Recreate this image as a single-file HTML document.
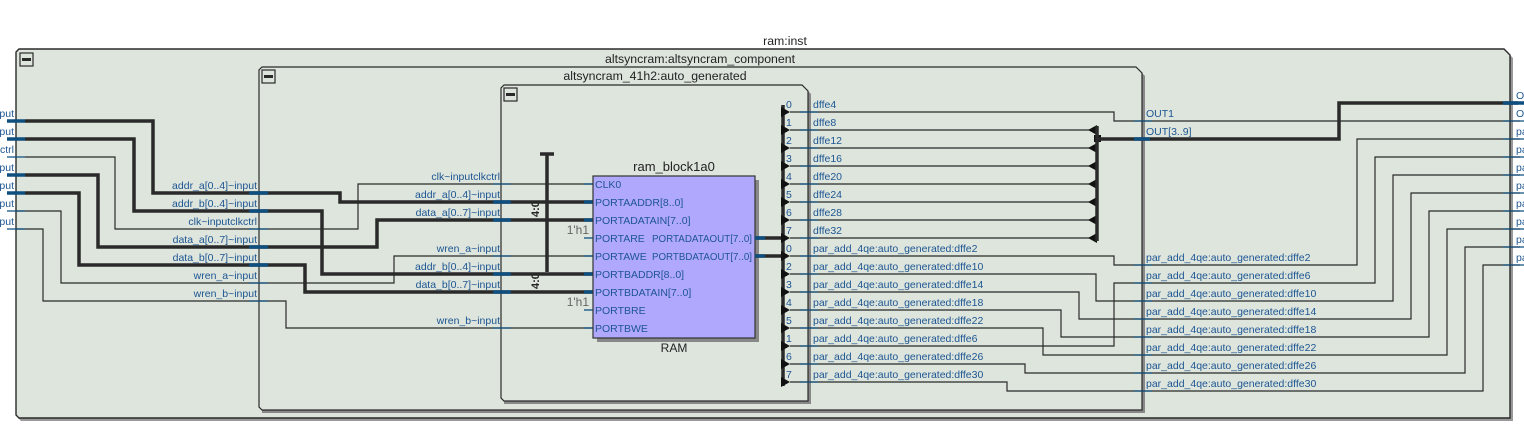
<!DOCTYPE html>
<html><head><meta charset="utf-8"><style>
html,body{margin:0;padding:0;background:#fff;}
svg{display:block;}
text{font-family:"Liberation Sans","DejaVu Sans",sans-serif;font-size:10.5px;fill:#1d5592;}
.k{fill:#222;}
.h{fill:#222;font-size:12.3px;}
.g{fill:#666;font-size:12px;}
.t{stroke:#2a2a2a;stroke-width:3.5;fill:none;}
.n{stroke:#2a2a2a;stroke-width:1.2;fill:none;}
.b{stroke:#0e4f7f;stroke-width:3.5;}
.bn{stroke:#0e4f7f;stroke-width:1.3;}
</style></head><body>
<svg width="1524" height="447" viewBox="0 0 1524 447" xmlns="http://www.w3.org/2000/svg">
<path d="M19,51 L1506,51 L1513,58 L1513,421 L21,421 L19,419 Z" fill="#999"/>
<path d="M19,49 L1504,49 L1510,55 L1510,418 L19,418 L16,415 L16,52 Z" fill="#dde5dd" stroke="#2a2a2a" stroke-width="1.4"/>
<text x="785" y="45" text-anchor="middle" class="h">ram:inst</text>
<text x="700" y="63" text-anchor="middle" class="h">altsyncram:altsyncram_component</text>
<rect x="20" y="53" width="13" height="13" fill="none" stroke="#2a2a2a" stroke-width="1.2"/><rect x="22" y="58" width="9" height="3" fill="#2a2a2a"/>
<path d="M262,70 L1139,70 L1145,76 L1145,413 L262,413 Z" fill="#888"/>
<path d="M262,67 L1136,67 L1142,73 L1142,410 L262,410 L259,407 L259,70 Z" fill="#dde5dd" stroke="#2a2a2a" stroke-width="1.2"/>
<text x="655" y="80" text-anchor="middle" class="h">altsyncram_41h2:auto_generated</text>
<rect x="262" y="70" width="13" height="13" fill="none" stroke="#2a2a2a" stroke-width="1.2"/><rect x="264" y="75" width="9" height="3" fill="#2a2a2a"/>
<path d="M504,88 L805,88 L811,94 L811,404 L504,404 Z" fill="#888"/>
<path d="M504,85 L802,85 L808,91 L808,401 L504,401 L501,398 L501,88 Z" fill="#dde5dd" stroke="#2a2a2a" stroke-width="1.2"/>
<rect x="504" y="88" width="13" height="13" fill="none" stroke="#2a2a2a" stroke-width="1.2"/><rect x="506" y="93" width="9" height="3" fill="#2a2a2a"/>

<g>
<text x="14" y="117" text-anchor="end">put</text>
<text x="14" y="135" text-anchor="end">put</text>
<text x="14" y="153" text-anchor="end">ctrl</text>
<text x="14" y="171" text-anchor="end">put</text>
<text x="14" y="189" text-anchor="end">put</text>
<text x="14" y="207" text-anchor="end">put</text>
<text x="14" y="225" text-anchor="end">put</text>
</g>
<polyline class="t" points="25,121 153,121 153,193 340,193 340,202 593,202"/>
<polyline class="t" points="25,139 134,139 134,211 322,211 322,274 593,274"/>
<polyline class="n" points="25,157 115,157 115,229 358,229 358,184 593,184"/>
<polyline class="t" points="25,175 98,175 98,247 377,247 377,220 593,220"/>
<polyline class="t" points="25,193 79,193 79,265 305,265 305,292 593,292"/>
<polyline class="n" points="16,211 61,211 61,283 394,283 394,256 593,256"/>
<polyline class="n" points="16,229 43,229 43,301 286,301 286,328 593,328"/>
<g class="b"><line x1="7" y1="121" x2="25" y2="121"/><line x1="7" y1="139" x2="25" y2="139"/><line x1="7" y1="175" x2="25" y2="175"/><line x1="7" y1="193" x2="25" y2="193"/></g>
<g class="bn"><line x1="7" y1="157" x2="25" y2="157"/><line x1="7" y1="211" x2="25" y2="211"/><line x1="7" y1="229" x2="25" y2="229"/></g>
<g text-anchor="end">
<text x="257" y="189">addr_a[0..4]~input</text>
<text x="257" y="207">addr_b[0..4]~input</text>
<text x="257" y="225">clk~inputclkctrl</text>
<text x="257" y="243">data_a[0..7]~input</text>
<text x="257" y="261">data_b[0..7]~input</text>
<text x="257" y="279">wren_a~input</text>
<text x="257" y="297">wren_b~input</text>
<text x="500" y="180">clk~inputclkctrl</text>
<text x="500" y="198">addr_a[0..4]~input</text>
<text x="500" y="216">data_a[0..7]~input</text>
<text x="500" y="252">wren_a~input</text>
<text x="500" y="270">addr_b[0..4]~input</text>
<text x="500" y="288">data_b[0..7]~input</text>
<text x="500" y="324">wren_b~input</text>
</g>
<g class="b"><line x1="249" y1="193" x2="268" y2="193"/><line x1="249" y1="211" x2="268" y2="211"/><line x1="249" y1="247" x2="268" y2="247"/><line x1="249" y1="265" x2="268" y2="265"/>
<line x1="493" y1="202" x2="511" y2="202"/><line x1="493" y1="220" x2="511" y2="220"/><line x1="493" y1="274" x2="511" y2="274"/><line x1="493" y1="292" x2="511" y2="292"/>
<line x1="584" y1="202" x2="593" y2="202"/><line x1="584" y1="220" x2="593" y2="220"/><line x1="584" y1="274" x2="593" y2="274"/><line x1="584" y1="292" x2="593" y2="292"/></g>
<g class="bn"><line x1="249" y1="229" x2="268" y2="229"/><line x1="249" y1="283" x2="268" y2="283"/><line x1="249" y1="301" x2="268" y2="301"/>
<line x1="493" y1="184" x2="511" y2="184"/><line x1="493" y1="256" x2="511" y2="256"/><line x1="493" y1="328" x2="511" y2="328"/>
<line x1="584" y1="184" x2="593" y2="184"/><line x1="584" y1="256" x2="593" y2="256"/><line x1="584" y1="328" x2="593" y2="328"/>
<line x1="584" y1="238" x2="593" y2="238"/><line x1="584" y1="310" x2="593" y2="310"/></g>
<line x1="547" y1="153" x2="547" y2="272" class="t"/>
<line x1="540" y1="154" x2="554" y2="154" class="t"/>
<text x="0" y="0" class="k" style="font-size:11px;font-weight:bold" transform="translate(539,217) rotate(-90)">4:0</text>
<text x="0" y="0" class="k" style="font-size:11px;font-weight:bold" transform="translate(539,289) rotate(-90)">4:0</text>
<text x="589" y="234" text-anchor="end" class="g">1'h1</text>
<text x="589" y="306" text-anchor="end" class="g">1'h1</text>

<rect x="597" y="180" width="162" height="162" fill="#888"/>
<rect x="593" y="176" width="162" height="162" fill="#b0a8fc" stroke="#333" stroke-width="1.2"/>
<text x="674" y="171" text-anchor="middle" class="k" style="font-size:13px">ram_block1a0</text>
<text x="674" y="352" text-anchor="middle" class="k" style="font-size:12px">RAM</text>
<g>
<text x="595" y="188">CLK0</text>
<text x="595" y="206">PORTAADDR[8..0]</text>
<text x="595" y="224">PORTADATAIN[7..0]</text>
<text x="595" y="242">PORTARE</text>
<text x="595" y="260">PORTAWE</text>
<text x="595" y="278">PORTBADDR[8..0]</text>
<text x="595" y="296">PORTBDATAIN[7..0]</text>
<text x="595" y="314">PORTBRE</text>
<text x="595" y="332">PORTBWE</text>
<text x="652" y="242" textLength="100" lengthAdjust="spacingAndGlyphs">PORTADATAOUT[7..0]</text>
<text x="652" y="260" textLength="100" lengthAdjust="spacingAndGlyphs">PORTBDATAOUT[7..0]</text>
</g>
<line x1="755" y1="238" x2="783" y2="238" class="t"/>
<line x1="755" y1="256" x2="783" y2="256" class="t"/>
<g class="b"><line x1="755" y1="238" x2="765" y2="238"/><line x1="755" y1="256" x2="765" y2="256"/></g>

<line x1="783" y1="105" x2="783" y2="386" class="t"/>
<g fill="#111">
<path d="M781,107 l9,5 l-9,5Z"/><path d="M781,125 l9,5 l-9,5Z"/><path d="M781,143 l9,5 l-9,5Z"/><path d="M781,161 l9,5 l-9,5Z"/>
<path d="M781,179 l9,5 l-9,5Z"/><path d="M781,197 l9,5 l-9,5Z"/><path d="M781,215 l9,5 l-9,5Z"/><path d="M781,233 l9,5 l-9,5Z"/>
<path d="M781,251 l9,5 l-9,5Z"/><path d="M781,269 l9,5 l-9,5Z"/><path d="M781,287 l9,5 l-9,5Z"/><path d="M781,305 l9,5 l-9,5Z"/>
<path d="M781,323 l9,5 l-9,5Z"/><path d="M781,341 l9,5 l-9,5Z"/><path d="M781,359 l9,5 l-9,5Z"/><path d="M781,377 l9,5 l-9,5Z"/>
</g>
<g class="k" style="font-size:11px">
<text x="786" y="108">0</text><text x="786" y="126">1</text><text x="786" y="144">2</text><text x="786" y="162">3</text>
<text x="786" y="180">4</text><text x="786" y="198">5</text><text x="786" y="216">6</text><text x="786" y="234">7</text>
<text x="786" y="252">0</text><text x="786" y="270">2</text><text x="786" y="288">3</text><text x="786" y="306">4</text>
<text x="786" y="324">5</text><text x="786" y="342">1</text><text x="786" y="360">6</text><text x="786" y="378">7</text>
</g>
<g>
<text x="813" y="108">dffe4</text><text x="813" y="126">dffe8</text><text x="813" y="144">dffe12</text><text x="813" y="162">dffe16</text>
<text x="813" y="180">dffe20</text><text x="813" y="198">dffe24</text><text x="813" y="216">dffe28</text><text x="813" y="234">dffe32</text>
<text x="813" y="252">par_add_4qe:auto_generated:dffe2</text>
<text x="813" y="270">par_add_4qe:auto_generated:dffe10</text>
<text x="813" y="288">par_add_4qe:auto_generated:dffe14</text>
<text x="813" y="306">par_add_4qe:auto_generated:dffe18</text>
<text x="813" y="324">par_add_4qe:auto_generated:dffe22</text>
<text x="813" y="342">par_add_4qe:auto_generated:dffe6</text>
<text x="813" y="360">par_add_4qe:auto_generated:dffe26</text>
<text x="813" y="378">par_add_4qe:auto_generated:dffe30</text>
</g>
<polyline class="n" points="790,112 1114,112 1114,121 1520,121"/>
<g class="n"><line x1="790" y1="130" x2="1093" y2="130"/><line x1="790" y1="148" x2="1093" y2="148"/><line x1="790" y1="166" x2="1093" y2="166"/>
<line x1="790" y1="184" x2="1093" y2="184"/><line x1="790" y1="202" x2="1093" y2="202"/><line x1="790" y1="220" x2="1093" y2="220"/><line x1="790" y1="238" x2="1093" y2="238"/></g>
<g fill="#111">
<path d="M1097,125 l-9,5 l9,5Z"/><path d="M1097,143 l-9,5 l9,5Z"/><path d="M1097,161 l-9,5 l9,5Z"/><path d="M1097,179 l-9,5 l9,5Z"/>
<path d="M1097,197 l-9,5 l9,5Z"/><path d="M1097,215 l-9,5 l9,5Z"/><path d="M1097,233 l-9,5 l9,5Z"/>
<rect x="1094" y="135" width="7" height="7"/>
</g>
<line x1="1097" y1="126" x2="1097" y2="241" class="t"/>
<polyline class="t" points="1097,139 1339,139 1339,103 1518,103"/>
<text x="1146" y="117">OUT1</text>
<text x="1146" y="135">OUT[3..9]</text>
<polyline class="n" points="790,256 1114,256 1114,265 1357,265 1357,139 1520,139"/>
<polyline class="n" points="790,346 1114,346 1114,283 1375,283 1375,157 1520,157"/>
<polyline class="n" points="790,274 1096,274 1096,301 1393,301 1393,175 1520,175"/>
<polyline class="n" points="790,292 1079,292 1079,319 1411,319 1411,193 1520,193"/>
<polyline class="n" points="790,310 1061,310 1061,337 1429,337 1429,211 1520,211"/>
<polyline class="n" points="790,328 1043,328 1043,355 1447,355 1447,229 1520,229"/>
<polyline class="n" points="790,364 1025,364 1025,373 1465,373 1465,247 1520,247"/>
<polyline class="n" points="790,382 1007,382 1007,391 1483,391 1483,265 1520,265"/>
<g>
<text x="1146" y="261">par_add_4qe:auto_generated:dffe2</text>
<text x="1146" y="279">par_add_4qe:auto_generated:dffe6</text>
<text x="1146" y="297">par_add_4qe:auto_generated:dffe10</text>
<text x="1146" y="315">par_add_4qe:auto_generated:dffe14</text>
<text x="1146" y="333">par_add_4qe:auto_generated:dffe18</text>
<text x="1146" y="351">par_add_4qe:auto_generated:dffe22</text>
<text x="1146" y="369">par_add_4qe:auto_generated:dffe26</text>
<text x="1146" y="387">par_add_4qe:auto_generated:dffe30</text>
</g>
<g class="bn">
<line x1="800" y1="112" x2="818" y2="112"/><line x1="800" y1="130" x2="818" y2="130"/><line x1="800" y1="148" x2="818" y2="148"/><line x1="800" y1="166" x2="818" y2="166"/>
<line x1="800" y1="184" x2="818" y2="184"/><line x1="800" y1="202" x2="818" y2="202"/><line x1="800" y1="220" x2="818" y2="220"/><line x1="800" y1="238" x2="818" y2="238"/>
<line x1="800" y1="256" x2="818" y2="256"/><line x1="800" y1="274" x2="818" y2="274"/><line x1="800" y1="292" x2="818" y2="292"/><line x1="800" y1="310" x2="818" y2="310"/>
<line x1="800" y1="328" x2="818" y2="328"/><line x1="800" y1="346" x2="818" y2="346"/><line x1="800" y1="364" x2="818" y2="364"/><line x1="800" y1="382" x2="818" y2="382"/>
<line x1="1134" y1="121" x2="1152" y2="121"/>
<line x1="1134" y1="265" x2="1152" y2="265"/><line x1="1134" y1="283" x2="1152" y2="283"/><line x1="1134" y1="301" x2="1152" y2="301"/><line x1="1134" y1="319" x2="1152" y2="319"/>
<line x1="1134" y1="337" x2="1152" y2="337"/><line x1="1134" y1="355" x2="1152" y2="355"/><line x1="1134" y1="373" x2="1152" y2="373"/><line x1="1134" y1="391" x2="1152" y2="391"/>
<line x1="1503" y1="121" x2="1524" y2="121"/><line x1="1503" y1="139" x2="1524" y2="139"/><line x1="1503" y1="157" x2="1524" y2="157"/><line x1="1503" y1="175" x2="1524" y2="175"/>
<line x1="1503" y1="193" x2="1524" y2="193"/><line x1="1503" y1="211" x2="1524" y2="211"/><line x1="1503" y1="229" x2="1524" y2="229"/><line x1="1503" y1="247" x2="1524" y2="247"/><line x1="1503" y1="265" x2="1524" y2="265"/>
</g>
<g class="b"><line x1="1134" y1="139" x2="1150" y2="139"/><line x1="1503" y1="103" x2="1524" y2="103"/></g>
<g>
<text x="1516" y="99">O</text><text x="1516" y="117">O</text>
<text x="1516" y="135">pa</text><text x="1516" y="153">pa</text><text x="1516" y="171">pa</text><text x="1516" y="189">pa</text>
<text x="1516" y="207">pa</text><text x="1516" y="225">pa</text><text x="1516" y="243">pa</text><text x="1516" y="261">pa</text>
</g>
</svg>
</body></html>
